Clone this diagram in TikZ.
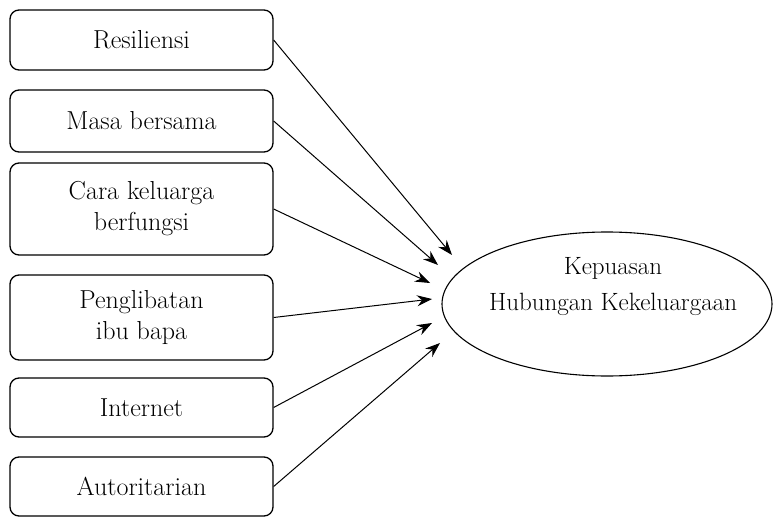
\documentclass[tikz,border=0pt]{standalone}
\usetikzlibrary{arrows.meta}
\begin{document}
\begin{tikzpicture}[x=1pt,y=-1pt,
  varbox/.style={draw=black, line width=1.3pt, rounded corners=9pt, minimum width=263pt, inner sep=0pt, align=center, font=\fontsize{26}{31}\selectfont},
  link/.style={draw=black, line width=1pt, -{Stealth[length=15pt, width=11pt, inset=5pt]}}
]
\useasboundingbox (0,0) rectangle (774,519);
\node[varbox, minimum height=60pt] (b1) at (141.5,40) {Resiliensi};
\node[varbox, minimum height=62pt] (b2) at (141.5,121) {Masa bersama};
\node[varbox, minimum height=92pt] (b3) at (141.5,209) {Cara keluarga\\berfungsi};
\node[varbox, minimum height=85pt] (b4) at (141.5,317.5) {Penglibatan\\ibu bapa};
\node[varbox, minimum height=59pt] (b5) at (141.5,407.5) {Internet};
\node[varbox, minimum height=59pt] (b6) at (141.5,486.5) {Autoritarian};
\draw[line width=1.1pt] (607,304) ellipse [x radius=165pt, y radius=72pt];
\node[align=center, font=\fontsize{25}{36}\selectfont] (out) at (613,287) {Kepuasan\\Hubungan Kekeluargaan};
\coordinate (e1) at (452,255);
\coordinate (e2) at (438,265);
\coordinate (e3) at (430,283);
\coordinate (e4) at (432,299);
\coordinate (e5) at (432,323);
\coordinate (e6) at (440,343);
\draw[link] (b1.east) -- (e1);
\draw[link] (b2.east) -- (e2);
\draw[link] (b3.east) -- (e3);
\draw[link] (b4.east) -- (e4);
\draw[link] (b5.east) -- (e5);
\draw[link] (b6.east) -- (e6);
\end{tikzpicture}
\end{document}
